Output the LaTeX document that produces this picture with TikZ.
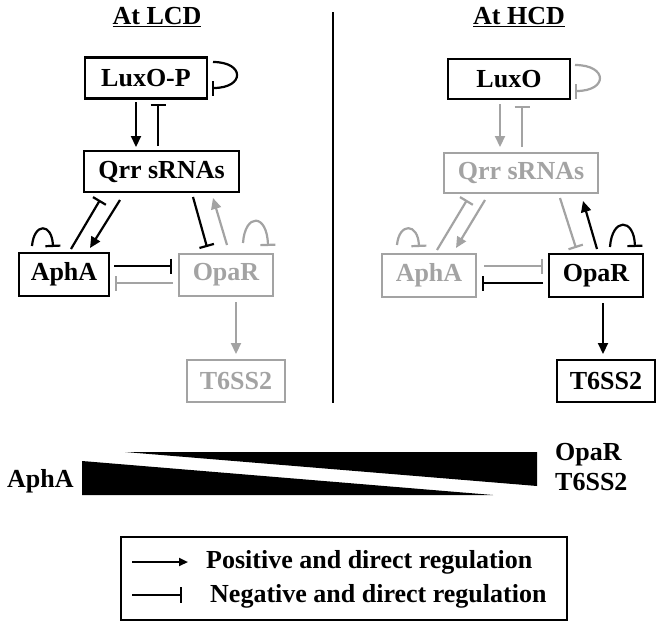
\documentclass[tikz,border=0pt]{standalone}
\usepackage{fontspec}
\setmainfont{Liberation Serif}
\usetikzlibrary{arrows.meta,calc}
\definecolor{lg}{RGB}{163,163,163}
\tikzset{
  box/.style={draw, line width=2.5pt, inner sep=0pt, minimum height=41pt, font=\fontsize{26}{30}\selectfont\bfseries},
  gbox/.style={box, draw=lg, text=lg},
  posarr/.style={line width=2.2pt, -{Triangle[length=11pt,width=10pt]}},
  negarr/.style={line width=2.2pt, -{Bar[width=15pt,line width=2.2pt]}},
  gry/.style={draw=lg, color=lg},
  lbl/.style={font=\fontsize{26}{30}\selectfont\bfseries, inner sep=0pt},
}
\begin{document}
\begin{tikzpicture}[x=1pt,y=-1pt]
\useasboundingbox (0,0) rectangle (662,629);
% titles
\node[lbl] (tl) at (157,17) {\underline{At LCD}};
\node[lbl] (tr) at (519,17) {\underline{At HCD}};
% divider
\coordinate (d1) at (333,12);
\coordinate (d2) at (333,403);
\draw[line width=2.2pt] (d1) -- (d2);

% ---------- left (LCD) ----------
\node[box, minimum width=122pt] (luxop) at (146,78) {LuxO-P};
\node[box, minimum width=155pt] (qrrL) at (161.5,171.5) {Qrr sRNAs};
\node[box, minimum width=90pt, minimum height=43pt] (aphaL) at (64,274.5) {AphA};
\node[gbox, minimum width=94pt, minimum height=42pt] (oparL) at (226,275) {OpaR};
\node[gbox, minimum width=98pt, minimum height=42pt] (t6L) at (236,381) {T6SS2};

\draw[posarr] ($(luxop)+(-10,24)$) -- ($(qrrL)+(-25.5,-24.5)$);
\draw[negarr] ($(qrrL)+(-3.5,-25.5)$) -- ($(luxop)+(12,26)$);
\draw[negarr] ($(luxop)+(67,-16)$) .. controls ($(luxop)+(99,-16)$) and ($(luxop)+(99,10)$) .. ($(luxop)+(66,10)$);
\draw[negarr] ($(aphaL)+(7,-25.5)$) -- ($(qrrL)+(-61.5,28.5)$);
\draw[posarr] ($(qrrL)+(-41.5,28.5)$) -- ($(aphaL)+(26,-26.5)$);
\draw[negarr] ($(qrrL)+(31.5,25.5)$) -- ($(oparL)+(-19,-28)$);
\draw[posarr,gry] ($(oparL)+(1,-30)$) -- ($(qrrL)+(51.5,26.5)$);
\draw[negarr] ($(aphaL)+(-32,-28.5)$) .. controls ($(aphaL)+(-30,-52)$) and ($(aphaL)+(-12,-52)$) .. ($(aphaL)+(-11,-27.5)$);
\draw[negarr,gry] ($(oparL)+(17,-32)$) .. controls ($(oparL)+(19,-62)$) and ($(oparL)+(41,-62)$) .. ($(oparL)+(42,-29)$);
\draw[negarr] ($(aphaL)+(50,-8.5)$) -- ($(oparL)+(-54,-9)$);
\draw[negarr,gry] ($(oparL)+(-53,8)$) -- ($(aphaL)+(51,8.5)$);
\draw[posarr,gry] ($(oparL)+(10,27)$) -- ($(t6L)+(0,-27)$);

% ---------- right (HCD) ----------
\node[box, minimum width=122pt, minimum height=40pt] (luxo) at (509,79) {LuxO};
\node[gbox, minimum width=154pt, minimum height=40pt] (qrrR) at (521,173) {Qrr sRNAs};
\node[gbox, minimum width=94pt, minimum height=43pt] (aphaR) at (429,275.5) {AphA};
\node[box, minimum width=94pt, minimum height=43pt] (oparR) at (596,275.5) {OpaR};
\node[box, minimum width=98pt, minimum height=42pt] (t6R) at (606,381) {T6SS2};

\draw[posarr,gry] ($(luxo)+(-9,25)$) -- ($(qrrR)+(-21,-26)$);
\draw[negarr,gry] ($(qrrR)+(1,-26)$) -- ($(luxo)+(13,27)$);
\draw[negarr,gry] ($(luxo)+(66,-14)$) .. controls ($(luxo)+(99,-14)$) and ($(luxo)+(99,12)$) .. ($(luxo)+(66,12)$);
\draw[negarr,gry] ($(aphaR)+(8,-25.5)$) -- ($(qrrR)+(-54,27)$);
\draw[posarr,gry] ($(qrrR)+(-36,27)$) -- ($(aphaR)+(27,-27.5)$);
\draw[negarr,gry] ($(qrrR)+(39,25)$) -- ($(oparR)+(-20,-27.5)$);
\draw[posarr] ($(oparR)+(1,-26.5)$) -- ($(qrrR)+(62,28)$);
\draw[negarr] ($(oparR)+(14,-28.5)$) .. controls ($(oparR)+(16,-58)$) and ($(oparR)+(38,-58)$) .. ($(oparR)+(39,-28.5)$);
\draw[negarr,gry] ($(aphaR)+(-32,-30.5)$) .. controls ($(aphaR)+(-30,-53)$) and ($(aphaR)+(-11,-53)$) .. ($(aphaR)+(-10,-28.5)$);
\draw[negarr,gry] ($(aphaR)+(55,-9.5)$) -- ($(oparR)+(-53,-9.5)$);
\draw[negarr] ($(oparR)+(-53,7.5)$) -- ($(aphaR)+(53,7.5)$);
\draw[posarr] ($(oparR)+(7,27.5)$) -- ($(t6R)+(-3,-27)$);

% ---------- gradient ----------
\fill (125,452) -- (537,452) -- (537,486) -- cycle;
\fill (82,461) -- (82,495) -- (493,495) -- cycle;
\node[lbl, anchor=base west] (la) at (7,487) {AphA};
\node[lbl, anchor=base west] (lo) at (555,460) {OpaR};
\node[lbl, anchor=base west] (lt) at (555,490) {T6SS2};

% ---------- legend ----------
\node[draw, line width=2.5pt, minimum width=446pt, minimum height=83pt, inner sep=0pt] (leg) at (344,578.5) {};
\coordinate (p1) at (132,562);
\coordinate (p2) at (188,562);
\coordinate (n1) at (132,595);
\coordinate (n2) at (182,595);
\draw[line width=2.2pt, -{Triangle[length=9pt,width=8pt]}] (p1) -- (p2);
\draw[line width=2.2pt, -{Bar[width=16pt,line width=2.2pt]}] (n1) -- (n2);
\node[lbl, anchor=base west] (pt) at (206,568) {Positive and direct regulation};
\node[lbl, anchor=base west] (nt) at (210,602) {Negative and direct regulation};
\end{tikzpicture}
\end{document}
